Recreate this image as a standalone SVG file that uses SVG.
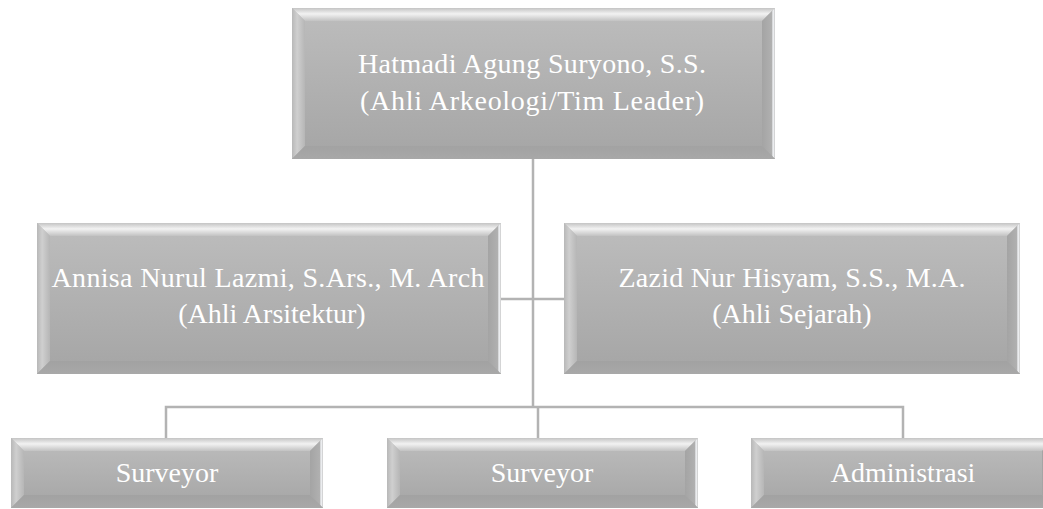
<svg xmlns="http://www.w3.org/2000/svg" width="1043" height="509" viewBox="0 0 1043 509">
<style>
.face{fill:url(#gFace)}
.bt{fill:url(#gTop)}
.bl{fill:url(#gLeft)}
.br{fill:url(#gRight)}
.bb{fill:url(#gBot)}
.t{font-family:"Liberation Serif","Times New Roman",serif;font-size:28px;fill:#ffffff;text-anchor:middle}
.c{fill:none;stroke:#b3b3b3;stroke-width:2.5}
</style>
<defs>
<linearGradient id="gFace" x1="0" y1="0" x2="0" y2="1"><stop offset="0" stop-color="#bdbdbd"/><stop offset="1" stop-color="#a5a5a5"/></linearGradient>
<linearGradient id="gTop" x1="0" y1="0" x2="0" y2="1"><stop offset="0" stop-color="#c4c4c4"/><stop offset="0.45" stop-color="#f2f2f2"/><stop offset="1" stop-color="#c2c2c2"/></linearGradient>
<linearGradient id="gLeft" x1="0" y1="0" x2="1" y2="0"><stop offset="0" stop-color="#b8b8b8"/><stop offset="0.4" stop-color="#cfcfcf"/><stop offset="1" stop-color="#b6b6b6"/></linearGradient>
<linearGradient id="gRight" x1="0" y1="0" x2="1" y2="0"><stop offset="0" stop-color="#a4a4a4"/><stop offset="0.75" stop-color="#b0b0b0"/><stop offset="0.85" stop-color="#f6f8fb"/><stop offset="1" stop-color="#c8c8c8"/></linearGradient>
<linearGradient id="gBot" x1="0" y1="0" x2="0" y2="1"><stop offset="0" stop-color="#a2a2a2"/><stop offset="1" stop-color="#a8a8a8"/></linearGradient>
</defs>
<g id="connectors">
<path class="c" d="M533,159 V407"/>
<path class="c" d="M501,299 H564"/>
<path class="c" d="M166,438 V407 H903 V438"/>
<path class="c" d="M538,407 V438"/>
</g>
<g id="n1">
<rect class="face" x="292" y="8" width="483" height="151"/>
<polygon class="bt" points="292,8 775,8 762,21 305,21"/>
<polygon class="bl" points="292,8 305,21 305,146 292,159"/>
<polygon class="br" points="775,8 775,159 762,146 762,21"/>
<polygon class="bb" points="292,159 305,146 762,146 775,159"/>
<text class="t" x="532" y="73" textLength="348">Hatmadi Agung Suryono, S.S.</text>
<text class="t" x="532" y="110" textLength="344">(Ahli Arkeologi/Tim Leader)</text>
</g>
<g id="n2">
<rect class="face" x="37" y="223" width="464" height="151"/>
<polygon class="bt" points="37,223 501,223 488,236 50,236"/>
<polygon class="bl" points="37,223 50,236 50,361 37,374"/>
<polygon class="br" points="501,223 501,374 488,361 488,236"/>
<polygon class="bb" points="37,374 50,361 488,361 501,374"/>
<text class="t" x="268" y="287" textLength="433">Annisa Nurul Lazmi, S.Ars., M. Arch</text>
<text class="t" x="272" y="323">(Ahli Arsitektur)</text>
</g>
<g id="n3">
<rect class="face" x="564" y="223" width="456" height="151"/>
<polygon class="bt" points="564,223 1020,223 1007,236 577,236"/>
<polygon class="bl" points="564,223 577,236 577,361 564,374"/>
<polygon class="br" points="1020,223 1020,374 1007,361 1007,236"/>
<polygon class="bb" points="564,374 577,361 1007,361 1020,374"/>
<text class="t" x="792" y="287" textLength="347">Zazid Nur Hisyam, S.S., M.A.</text>
<text class="t" x="792" y="323">(Ahli Sejarah)</text>
</g>
<g id="n4">
<rect class="face" x="11" y="438" width="312" height="70"/>
<polygon class="bt" points="11,438 323,438 310,451 24,451"/>
<polygon class="bl" points="11,438 24,451 24,495 11,508"/>
<polygon class="br" points="323,438 323,508 310,495 310,451"/>
<polygon class="bb" points="11,508 24,495 310,495 323,508"/>
<text class="t" x="167" y="482">Surveyor</text>
</g>
<g id="n5">
<rect class="face" x="387" y="438" width="311" height="70"/>
<polygon class="bt" points="387,438 698,438 685,451 400,451"/>
<polygon class="bl" points="387,438 400,451 400,495 387,508"/>
<polygon class="br" points="698,438 698,508 685,495 685,451"/>
<polygon class="bb" points="387,508 400,495 685,495 698,508"/>
<text class="t" x="542" y="482">Surveyor</text>
</g>
<g id="n6">
<rect class="face" x="751" y="438" width="304" height="70"/>
<polygon class="bt" points="751,438 1055,438 1042,451 764,451"/>
<polygon class="bl" points="751,438 764,451 764,495 751,508"/>
<polygon class="br" points="1055,438 1055,508 1042,495 1042,451"/>
<polygon class="bb" points="751,508 764,495 1042,495 1055,508"/>
<text class="t" x="903" y="482">Administrasi</text>
</g>
</svg>
